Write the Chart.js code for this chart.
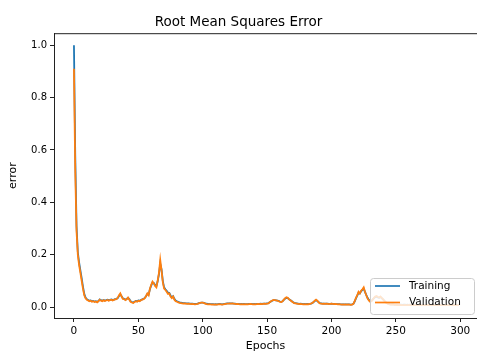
<!DOCTYPE html>
<html lang="en">
<head>
  <meta charset="UTF-8" />
  <title>Root Mean Squares Error</title>
  <script src="https://cdn.jsdelivr.net/npm/chart.js"></script>
  <style>
    html, body { margin: 0; padding: 0; background: #fff; }
    #wrap { width: 477px; height: 352px; }
  </style>
</head>
<body>
  <div id="wrap"><canvas id="chartRmse"></canvas></div>

  <script>
    // RMSE per epoch
    const trainRmse = [
      1.0, 0.58, 0.31, 0.21, 0.17, 0.14, 0.11, 0.078, 0.05, 0.036,
      0.030, 0.027, 0.024, 0.025, 0.022, 0.023, 0.021, 0.022, 0.020, 0.023,
      0.029, 0.026, 0.024, 0.027, 0.025, 0.026, 0.028, 0.026, 0.027, 0.029,
      0.027, 0.028, 0.030, 0.031, 0.034, 0.042, 0.048, 0.041, 0.033, 0.031,
      0.028, 0.031, 0.035, 0.030, 0.022, 0.019, 0.017, 0.020, 0.023, 0.022,
      0.025, 0.024, 0.027, 0.029, 0.031, 0.035, 0.041, 0.050, 0.048, 0.068,
      0.082, 0.094, 0.092, 0.084, 0.080, 0.098, 0.125, 0.165, 0.145, 0.100,
      0.075, 0.068, 0.062, 0.055, 0.054, 0.044, 0.037, 0.041, 0.031, 0.025,
      0.022, 0.020, 0.018, 0.017, 0.016, 0.015, 0.015, 0.014, 0.014, 0.014,
      0.013, 0.013, 0.013, 0.012, 0.012, 0.012, 0.013, 0.015, 0.016, 0.017,
      0.017, 0.016, 0.014, 0.013, 0.012, 0.012, 0.011, 0.011, 0.011, 0.010,
      0.011, 0.010, 0.011, 0.012, 0.011, 0.010, 0.011, 0.012, 0.013, 0.014,
      0.014, 0.014, 0.014, 0.014, 0.013, 0.013, 0.012, 0.012, 0.012, 0.011,
      0.012, 0.011, 0.012, 0.011, 0.011, 0.011, 0.012, 0.012, 0.012, 0.011,
      0.012, 0.011, 0.012, 0.012, 0.012, 0.013, 0.012, 0.013, 0.013, 0.013,
      0.014, 0.015, 0.018, 0.021, 0.024, 0.026, 0.026, 0.025, 0.024, 0.023,
      0.021, 0.020, 0.022, 0.027, 0.032, 0.035, 0.034, 0.030, 0.027, 0.023,
      0.019, 0.016, 0.015, 0.014, 0.013, 0.012, 0.013, 0.012, 0.011, 0.012,
      0.011, 0.012, 0.011, 0.012, 0.013, 0.015, 0.018, 0.023, 0.026, 0.023,
      0.018, 0.015, 0.014, 0.013, 0.013, 0.013, 0.013, 0.013, 0.012, 0.012,
      0.013, 0.012, 0.012, 0.012, 0.011, 0.011, 0.011, 0.010, 0.010, 0.010,
      0.010, 0.010, 0.010, 0.010, 0.010, 0.009, 0.010, 0.012, 0.021, 0.033,
      0.043, 0.055, 0.052, 0.060, 0.065, 0.070, 0.058, 0.046, 0.035, 0.027,
      0.022, 0.023, 0.028, 0.034, 0.038, 0.040, 0.037, 0.035, 0.038, 0.034,
      0.029, 0.024, 0.019, 0.015, 0.013, 0.011, 0.010, 0.010, 0.010, 0.009,
      0.009, 0.009, 0.008, 0.009, 0.009, 0.008, 0.009, 0.009, 0.008, 0.009,
      0.008, 0.009, 0.008, 0.008, 0.009, 0.008, 0.008, 0.009, 0.008, 0.008,
      0.008, 0.009, 0.008, 0.008, 0.008, 0.009, 0.008, 0.008, 0.008, 0.008,
      0.008, 0.008, 0.009, 0.008, 0.008, 0.008, 0.008, 0.008, 0.008, 0.008,
      0.008, 0.008, 0.008, 0.008, 0.008, 0.008, 0.008, 0.008, 0.008, 0.008
    ];

    const valRmse = [
      0.91, 0.52, 0.29, 0.20, 0.16, 0.13, 0.10, 0.07, 0.045, 0.033,
      0.028, 0.025, 0.022, 0.024, 0.020, 0.022, 0.019, 0.021, 0.018, 0.022,
      0.028, 0.024, 0.022, 0.026, 0.023, 0.025, 0.027, 0.024, 0.026, 0.028,
      0.025, 0.027, 0.029, 0.030, 0.035, 0.045, 0.052, 0.040, 0.031, 0.030,
      0.026, 0.030, 0.036, 0.028, 0.020, 0.017, 0.015, 0.019, 0.022, 0.020,
      0.024, 0.022, 0.026, 0.028, 0.030, 0.034, 0.042, 0.052, 0.045, 0.070,
      0.085, 0.097, 0.090, 0.080, 0.075, 0.100, 0.130, 0.180, 0.140, 0.095,
      0.070, 0.065, 0.058, 0.050, 0.052, 0.040, 0.034, 0.040, 0.028, 0.022,
      0.020, 0.018, 0.016, 0.015, 0.014, 0.013, 0.014, 0.013, 0.012, 0.013,
      0.012, 0.011, 0.012, 0.011, 0.010, 0.011, 0.012, 0.014, 0.016, 0.017,
      0.017, 0.015, 0.013, 0.011, 0.010, 0.011, 0.010, 0.009, 0.010, 0.009,
      0.010, 0.009, 0.010, 0.011, 0.010, 0.009, 0.010, 0.011, 0.012, 0.013,
      0.013, 0.014, 0.013, 0.014, 0.013, 0.012, 0.011, 0.012, 0.011, 0.010,
      0.011, 0.010, 0.011, 0.010, 0.011, 0.010, 0.011, 0.012, 0.011, 0.010,
      0.011, 0.010, 0.011, 0.012, 0.011, 0.012, 0.011, 0.012, 0.013, 0.012,
      0.013, 0.014, 0.018, 0.022, 0.025, 0.027, 0.026, 0.025, 0.024, 0.022,
      0.020, 0.019, 0.022, 0.028, 0.034, 0.037, 0.035, 0.030, 0.026, 0.022,
      0.018, 0.015, 0.014, 0.013, 0.012, 0.011, 0.012, 0.011, 0.010, 0.011,
      0.010, 0.011, 0.010, 0.012, 0.013, 0.015, 0.019, 0.024, 0.028, 0.024,
      0.018, 0.014, 0.013, 0.012, 0.013, 0.012, 0.013, 0.012, 0.011, 0.012,
      0.013, 0.012, 0.011, 0.012, 0.011, 0.010, 0.011, 0.010, 0.009, 0.010,
      0.009, 0.010, 0.009, 0.010, 0.009, 0.008, 0.009, 0.012, 0.022, 0.035,
      0.045, 0.058, 0.052, 0.062, 0.068, 0.075, 0.058, 0.045, 0.033, 0.025,
      0.020, 0.022, 0.028, 0.035, 0.040, 0.042, 0.038, 0.036, 0.040, 0.035,
      0.030, 0.024, 0.018, 0.014, 0.012, 0.010, 0.009, 0.010, 0.009, 0.008,
      0.008, 0.007, 0.008, 0.007, 0.008, 0.007, 0.007, 0.008, 0.007, 0.007,
      0.008, 0.007, 0.007, 0.007, 0.008, 0.007, 0.007, 0.007, 0.007, 0.008,
      0.007, 0.007, 0.007, 0.007, 0.007, 0.008, 0.007, 0.007, 0.007, 0.007,
      0.007, 0.007, 0.007, 0.008, 0.007, 0.007, 0.007, 0.007, 0.007, 0.007,
      0.007, 0.007, 0.007, 0.007, 0.007, 0.007, 0.007, 0.007, 0.007, 0.007
    ];

    const epochs = trainRmse.map((_, i) => i);

    const xTicks = [0, 50, 100, 150, 200, 250, 300];
    const yTicks = [0.0, 0.2, 0.4, 0.6, 0.8, 1.0];
    const yTickLabels = ['0.0', '0.2', '0.4', '0.6', '0.8', '1.0'];

    const seriesNames = ['Training', 'Validation'];
    const seriesColors = ['#1f77b4', '#ff7f0e'];

    const fontFam = '"DejaVu Sans", sans-serif';

    // top spine (matplotlib style frame)
    const framePlugin = {
      id: 'frame',
      afterDraw(chart) {
        const { ctx, chartArea: a } = chart;
        ctx.save();
        ctx.strokeStyle = '#222';
        ctx.lineWidth = 1;
        ctx.beginPath();
        ctx.moveTo(a.left, a.top + 0.5);
        ctx.lineTo(a.right, a.top + 0.5);
        ctx.stroke();
        ctx.restore();
      }
    };

    // legend box in the lower right, drawn over the lines
    const legendBoxPlugin = {
      id: 'legendBox',
      afterDraw(chart) {
        const ctx = chart.ctx;
        const x = 370, y = 278, w = 104, h = 36;
        ctx.save();
        ctx.fillStyle = 'rgba(255,255,255,0.8)';
        ctx.strokeStyle = '#cccccc';
        ctx.lineWidth = 1;
        ctx.beginPath();
        ctx.roundRect(x + 0.5, y + 0.5, w, h, 3);
        ctx.fill();
        ctx.stroke();
        ctx.font = '10.5px ' + fontFam;
        ctx.textBaseline = 'middle';
        seriesNames.forEach((name, i) => {
          const ly = y + 8 + i * 16.5;
          ctx.strokeStyle = seriesColors[i];
          ctx.lineWidth = 1.7;
          ctx.beginPath();
          ctx.moveTo(x + 5, ly);
          ctx.lineTo(x + 30, ly);
          ctx.stroke();
          ctx.fillStyle = '#000';
          ctx.fillText(name, x + 39, ly);
        });
        ctx.restore();
      }
    };

    new Chart(document.getElementById('chartRmse').getContext('2d'), {
      type: 'line',
      data: {
        labels: epochs,
        datasets: [{
          label: seriesNames[0],
          data: trainRmse,
          borderColor: seriesColors[0],
          borderWidth: 1.8,
          pointRadius: 0,
          tension: 0,
          order: 1
        }, {
          label: seriesNames[1],
          data: valRmse,
          borderColor: seriesColors[1],
          borderWidth: 1.8,
          pointRadius: 0,
          tension: 0,
          order: 0
        }]
      },
      options: {
        responsive: true,
        maintainAspectRatio: false,
        animation: false,
        layout: { padding: 0 },
        plugins: {
          legend: { display: false },
          tooltip: { enabled: false },
          title: {
            display: true,
            text: 'Root Mean Squares Error',
            color: '#000',
            font: { family: fontFam, size: 13.5, weight: 'normal' },
            padding: { top: 14, bottom: 3 }
          }
        },
        scales: {
          x: {
            type: 'linear',
            min: -15.5,
            max: 313,
            afterFit: s => { s.height = 34; },
            afterBuildTicks: s => { s.ticks = xTicks.map(v => ({ value: v })); },
            grid: { display: true, drawOnChartArea: false, drawTicks: true, tickLength: 4, color: '#222' },
            border: { display: true, color: '#222', width: 1 },
            ticks: {
              color: '#000',
              padding: 3,
              maxRotation: 0,
              font: { family: fontFam, size: 10.5 },
              callback: v => String(v)
            },
            title: {
              display: true,
              text: 'Epochs',
              color: '#000',
              font: { family: fontFam, size: 11 },
              padding: { top: 0, bottom: -1 }
            }
          },
          y: {
            min: -0.042,
            max: 1.046,
            afterFit: s => { s.width = 54; },
            afterBuildTicks: s => { s.ticks = yTicks.map(v => ({ value: v })); },
            grid: { display: true, drawOnChartArea: false, drawTicks: true, tickLength: 4, color: '#222' },
            border: { display: true, color: '#222', width: 1 },
            ticks: {
              color: '#000',
              padding: 3,
              font: { family: fontFam, size: 10 },
              callback: (v, i) => yTickLabels[i]
            },
            title: {
              display: true,
              text: 'error',
              color: '#000',
              font: { family: fontFam, size: 11 },
              padding: { top: 7, bottom: 0 }
            }
          }
        }
      },
      plugins: [framePlugin, legendBoxPlugin]
    });
  </script>
</body>
</html>
